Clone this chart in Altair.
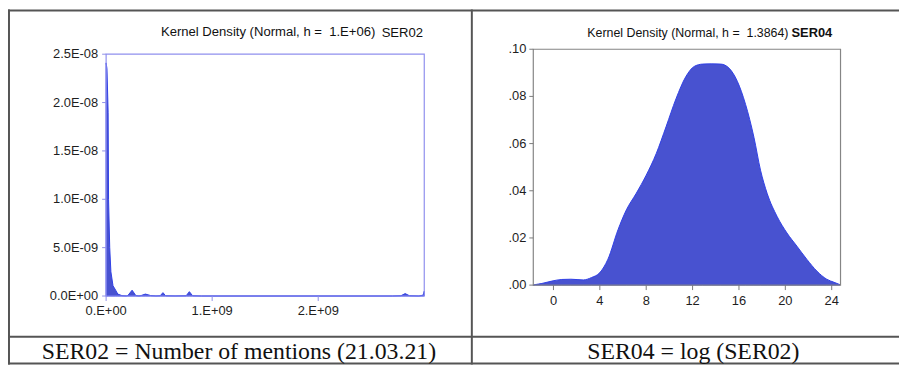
import altair as alt
import pandas as pd

# ---------------- data ----------------
# Left panel: kernel density of SER02 (number of mentions)
ser02_x = [0, 8e6, 1.9e7, 2.3e7, 3.4e7, 4.5e7, 6.5e7, 9.0e7, 1.1e8, 1.5e8, 1.9e8,
           2.05e8, 2.45e8, 2.8e8, 3.1e8, 3.3e8, 3.7e8, 4.2e8, 4.7e8, 5.1e8, 5.36e8,
           5.6e8, 6.5e8, 7.55e8, 7.85e8, 8.15e8, 9.0e8, 2.7e9, 2.78e9, 2.82e9,
           2.86e9, 2.95e9, 2.99e9, 3.0e9]
ser02_density = [2.41e-8, 2.35e-8, 1.9e-8, 1.0e-8, 5.0e-9, 2.5e-9, 1.06e-9, 6.0e-10,
                 2.0e-10, 4e-11, 1e-11, 5e-11, 6e-10, 5e-11, 1e-11, 5e-11, 2e-10,
                 5e-11, 1e-11, 3e-11, 3.5e-10, 3e-11, 1e-11, 3e-11, 4.5e-10, 3e-11,
                 0, 0, 3e-11, 2.5e-10, 3e-11, 0, 1e-10, 5e-10]

# Right panel: kernel density of SER04 = log(SER02)
ser04_x = [-1.74, -1.58, -1.0, -0.14, 0.72, 1.5, 2.57, 3.28, 4.0, 4.7, 5.57, 6.29,
           7.14, 8.0, 8.86, 9.71, 10.57, 11.43, 12.14, 12.86, 13.6, 14.43, 15.14,
           15.86, 16.57, 17.29, 17.86, 18.43, 19.29, 20.14, 21.0, 21.86, 22.71,
           23.57, 24.2, 24.71]
ser04_density = [0.0, 0.0002, 0.0007, 0.0017, 0.0024, 0.0025, 0.0022, 0.0032, 0.0053,
                 0.011, 0.0235, 0.0319, 0.0389, 0.0466, 0.0557, 0.0671, 0.079, 0.0885,
                 0.0927, 0.0937, 0.0938, 0.0937, 0.092, 0.0864, 0.0766, 0.0627,
                 0.0487, 0.0389, 0.0291, 0.0221, 0.0165, 0.0109, 0.006, 0.0025,
                 0.0012, 0.0002]

# axes: domains, ticks and tick labels
left_x_domain = [0, 3.0e9]
left_y_domain = [0, 2.5e-8]
left_x_ticks = [0, 1e9, 2e9]
left_x_labels = ["0.E+00", "1.E+09", "2.E+09"]
left_y_ticks = [0, 5e-9, 1e-8, 1.5e-8, 2e-8, 2.5e-8]
left_y_labels = ["0.0E+00", "5.0E-09", "1.0E-08", "1.5E-08", "2.0E-08", "2.5E-08"]

right_x_domain = [-1.74, 24.76]
right_y_domain = [0, 0.10]
right_x_ticks = [0, 4, 8, 12, 16, 20, 24]
right_x_labels = ["0", "4", "8", "12", "16", "20", "24"]
right_y_ticks = [0, 0.02, 0.04, 0.06, 0.08, 0.10]
right_y_labels = [".00", ".02", ".04", ".06", ".08", ".10"]

title_texts = ["Kernel Density (Normal, h = \u00a01.E+06)", "SER02",
               "Kernel Density (Normal, h = \u00a01.3864)"]
bold_title = "SER04"
captions = ["SER02 = Number of mentions (21.03.21)", "SER04 = log (SER02)"]

# ---------------- layout (pixels) ----------------
W, H = 899, 358
LEFT_X_RANGE = [99, 420]
LEFT_Y_RANGE = [289, 45]
RIGHT_X_RANGE = [530, 840]
RIGHT_Y_RANGE = [278, 40]

FILL = "#4852D0"
EDGE = "#3040E6"
LABEL_FONT = "Liberation Sans"
LABEL_COLOR = "#1e1e1e"


def panel(df, xf, yf, xdom, ydom, xrange_, yrange_, xticks, xlabels, yticks, ylabels,
          frame_color, tick_color, interp, ylab_x, xlab_y):
    xs = alt.Scale(domain=xdom, range=xrange_, nice=False, zero=False)
    ys = alt.Scale(domain=ydom, range=yrange_, nice=False, zero=False)
    area = alt.Chart(df).mark_area(
        color=FILL, stroke=EDGE, strokeWidth=1, interpolate=interp
    ).encode(
        x=alt.X(f"{xf}:Q", scale=xs, axis=None),
        y=alt.Y(f"{yf}:Q", scale=ys, axis=None),
    )
    frame = alt.Chart(pd.DataFrame({
        "fx0": [xdom[0]], "fx1": [xdom[1]], "fy0": [ydom[0]], "fy1": [ydom[1]]})
    ).mark_rect(filled=False, stroke=frame_color, strokeWidth=1.2).encode(
        x=alt.X("fx0:Q", axis=None), x2="fx1", y=alt.Y("fy0:Q", axis=None), y2="fy1"
    )
    xt = pd.DataFrame({"tv": xticks, "tl": xlabels})
    yt = pd.DataFrame({"uv": yticks, "ul": ylabels})
    x_tick_marks = alt.Chart(xt).mark_rule(color=tick_color, strokeWidth=1).encode(
        x=alt.X("tv:Q", axis=None),
        y=alt.value(yrange_[0]), y2=alt.value(yrange_[0] + 5),
    )
    x_tick_labels = alt.Chart(xt).mark_text(
        align="center", baseline="top", font=LABEL_FONT, fontSize=13, color=LABEL_COLOR
    ).encode(
        x=alt.X("tv:Q", axis=None), y=alt.value(xlab_y), text="tl:N",
    )
    y_tick_marks = alt.Chart(yt).mark_rule(color=tick_color, strokeWidth=1).encode(
        y=alt.Y("uv:Q", axis=None),
        x=alt.value(xrange_[0] - 4), x2=alt.value(xrange_[0]),
    )
    y_tick_labels = alt.Chart(yt).mark_text(
        align="right", baseline="middle", font=LABEL_FONT, fontSize=13, color=LABEL_COLOR
    ).encode(
        y=alt.Y("uv:Q", axis=None), x=alt.value(ylab_x), text="ul:N",
    )
    return alt.layer(area, frame, x_tick_marks, x_tick_labels, y_tick_marks, y_tick_labels)


left = panel(pd.DataFrame({"mentions": ser02_x, "dens02": ser02_density}),
             "mentions", "dens02", left_x_domain, left_y_domain,
             LEFT_X_RANGE, LEFT_Y_RANGE, left_x_ticks, left_x_labels,
             left_y_ticks, left_y_labels, "#9090ee", "#8f8fe8", "linear", 91, 298.5)

right = panel(pd.DataFrame({"logm": ser04_x, "dens04": ser04_density}),
              "logm", "dens04", right_x_domain, right_y_domain,
              RIGHT_X_RANGE, RIGHT_Y_RANGE, right_x_ticks, right_x_labels,
              right_y_ticks, right_y_labels, "#858585", "#7a7a7a", "monotone", 523, 288.5)

# ---------------- table lines, titles and captions ----------------
lines = pd.DataFrame({
    "x1": [0, 1, 468, 0, 0],
    "x2": [W, 1, 468, W, W],
    "y1": [1, 0, 0, 330, 357],
    "y2": [1, H, H, 330, 357],
})
table_lines = alt.Chart(lines).mark_rule(color="#555555", strokeWidth=2).encode(
    x=alt.X("x1:Q", scale=None, axis=None), x2="x2",
    y=alt.Y("y1:Q", scale=None, axis=None), y2="y2",
)

titles = pd.DataFrame({"t": title_texts, "tx": [154.3, 377, 584.5],
                       "ty": [26.7, 27.5, 27.5], "fs": [13.2, 13.2, 12.5]})
title_layer = alt.Chart(titles).mark_text(
    align="left", baseline="alphabetic", font=LABEL_FONT, color="#111111"
).encode(
    x=alt.X("tx:Q", scale=None, axis=None), y=alt.Y("ty:Q", scale=None, axis=None),
    text="t:N", size=alt.Size("fs:Q", scale=None, legend=None),
)
bold_layer = alt.Chart(pd.DataFrame({"t": [bold_title], "tx": [790.5], "ty": [27.5]})).mark_text(
    align="left", baseline="alphabetic", font=LABEL_FONT, fontSize=13,
    fontWeight="bold", color="#111111"
).encode(
    x=alt.X("tx:Q", scale=None, axis=None), y=alt.Y("ty:Q", scale=None, axis=None), text="t:N"
)
cap_layer = alt.Chart(pd.DataFrame({"t": captions, "tx": [233, 691.5], "ty": [352.5, 352.5]})).mark_text(
    align="center", baseline="alphabetic", font="Liberation Serif", fontSize=24, color="#111111"
).encode(
    x=alt.X("tx:Q", scale=None, axis=None), y=alt.Y("ty:Q", scale=None, axis=None), text="t:N"
)
deco = alt.layer(table_lines, title_layer, bold_layer, cap_layer)

chart = alt.layer(left, right, deco).resolve_scale(
    x="independent", y="independent"
).properties(
    width=W, height=H, padding=0, autosize=alt.AutoSizeParams(type="none"),
    background="white",
).configure_view(stroke=None)

chart.save("out.html", embed_options={"renderer": "svg", "actions": False})
